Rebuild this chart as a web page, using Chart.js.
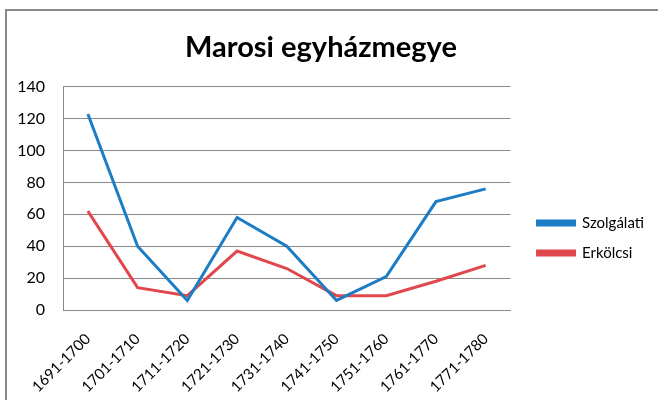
<!DOCTYPE html>
<html>
<head>
<meta charset="utf-8">
<script src="https://cdn.jsdelivr.net/npm/chart.js@4"></script>
<style>
  html, body { margin: 0; padding: 0; background: #fff; overflow: hidden; }
  #frame { position: absolute; left: 5px; top: 9px; width: 800px; height: 600px; border: 2px solid #8a8a8a; box-sizing: border-box; }
  #wrap { position: absolute; left: 0; top: 0; width: 658px; height: 400px; }
</style>
</head>
<body>
<div id="frame"></div>
<div id="wrap"><canvas id="c" width="658" height="400"></canvas></div>
<script>
const categories = ['1691-1700','1701-1710','1711-1720','1721-1730','1731-1740','1741-1750','1751-1760','1761-1770','1771-1780'];
const szolgalati = [123, 40, 6, 58, 40, 6, 21, 68, 76];
const erkolcsi = [62, 14, 9, 37, 26, 9, 9, 18, 28];
const yTicks = [0, 20, 40, 60, 80, 100, 120, 140];
const chartTitle = 'Marosi egyházmegye';
const seriesNames = ['Szolgálati', 'Erkölcsi'];

const FONT = 'Lato, "Open Sans", sans-serif';

const legendShift = {
  id: 'legendShift',
  afterLayout(chart) {
    const l = chart.legend;
    if (!l) return;
    l.left += 12; l.right += 12;
    l.top += 29; l.bottom += 29;
  }
};

new Chart(document.getElementById('c'), {
  type: 'line',
  data: {
    labels: categories,
    datasets: [
      { label: seriesNames[0], data: szolgalati, borderColor: '#1c7cc4', backgroundColor: '#1c7cc4', borderWidth: 3, pointRadius: 0, tension: 0 },
      { label: seriesNames[1], data: erkolcsi, borderColor: '#e0484e', backgroundColor: '#e0484e', borderWidth: 3, pointRadius: 0, tension: 0 }
    ]
  },
  plugins: [legendShift],
  options: {
    responsive: false,
    animation: false,
    layout: { padding: { left: 0, right: 16, top: 18, bottom: 0 } },
    plugins: {
      title: { display: true, text: chartTitle, color: '#000', font: { family: FONT, size: 29, weight: 'bold' }, padding: { top: 12, bottom: 22 } },
      legend: {
        position: 'right',
        align: 'center',
        labels: { boxWidth: 37, boxHeight: 4, color: '#000', font: { family: FONT, size: 15 }, padding: 15 }
      },
      tooltip: { enabled: false }
    },
    scales: {
      x: {
        offset: true,
        grid: { display: false, drawTicks: false },
        border: { display: true, color: '#8a8a8a', width: 1 },
        ticks: { color: '#000', font: { family: FONT, size: 15 }, maxRotation: 45, minRotation: 45, padding: 20, autoSkip: false },
        afterFit(scale) { scale.paddingLeft = 0; scale.paddingRight = 0; scale.height = 90; }
      },
      y: {
        min: 0, max: 140,
        afterBuildTicks: (axis) => { axis.ticks = yTicks.map(v => ({ value: v })); },
        grid: { color: '#8a8a8a', lineWidth: 1, drawTicks: false },
        border: { display: true, color: '#8a8a8a', width: 1 },
        ticks: { color: '#000', font: { family: FONT, size: 16 }, padding: 18 },
        afterFit(scale) { scale.width = 63; }
      }
    }
  }
});
</script>
</body>
</html>
